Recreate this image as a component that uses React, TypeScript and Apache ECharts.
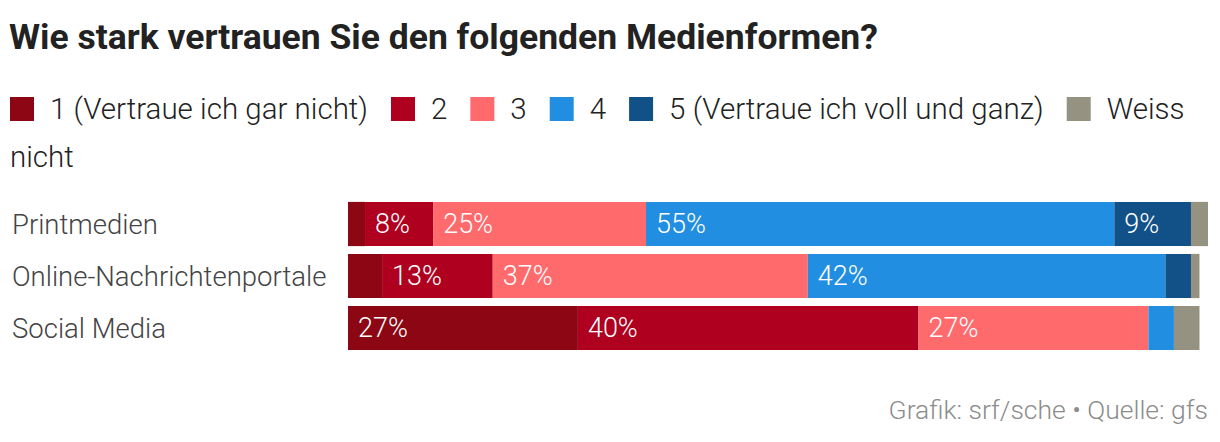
import React, { useEffect, useRef } from "react";
import * as echarts from "echarts";

const categories = ["Printmedien", "Online-Nachrichtenportale", "Social Media"];
const seriesNames = [
  "1 (Vertraue ich gar nicht)",
  "2",
  "3",
  "4",
  "5 (Vertraue ich voll und ganz)",
  "Weiss nicht",
];
const seriesColors = ["#8c0614", "#b0001f", "#ff6a6c", "#218ee2", "#125187", "#959282"];
const values1 = [2, 4, 27];
const values2 = [8, 13, 40];
const values3 = [25, 37, 27];
const values4 = [55, 42, 3];
const values5 = [9, 3, 0];
const valuesWeiss = [2, 1, 3];
const allValues = [values1, values2, values3, values4, values5, valuesWeiss];

const FONT = "Roboto";

export default function App() {
  const ref = useRef<HTMLDivElement>(null);
  useEffect(() => {
    document.body.style.margin = "0";
    const chart = echarts.init(ref.current!, null, { renderer: "svg" });
    const totals = categories.map((_, i) => allValues.reduce((s, a) => s + a[i], 0));
    const maxTotal = Math.max(...totals);
    chart.setOption({
      animation: false,
      textStyle: { fontFamily: FONT },
      title: [
        {
          text: "Wie stark vertrauen Sie den folgenden Medienformen?",
          left: 9,
          top: 19,
          padding: 0,
          textStyle: { fontFamily: FONT, fontSize: 35.5, fontWeight: "bold", color: "#222" },
        },
        {
          text: "Grafik: srf/sche • Quelle: gfs",
          right: 12,
          top: 396,
          padding: 0,
          textStyle: { fontFamily: FONT, fontSize: 26.5, fontWeight: 300, color: "#8c8c8c" },
        },
      ],
      legend: {
        left: 10,
        right: 8,
        top: 94,
        padding: 0,
        itemWidth: 24,
        itemHeight: 24,
        itemGap: 23,
        icon: "rect",
        data: seriesNames,
        formatter: (name: string) => (name === "Weiss nicht" ? "Weiss" : name),
        textStyle: { fontFamily: FONT, fontSize: 29.5, fontWeight: 300, color: "#222", padding: [0, 0, 0, 11] },
      },
      graphic: [
        {
          type: "text",
          left: 10,
          top: 142,
          style: { text: "nicht", fontFamily: FONT, fontSize: 29.5, fontWeight: 300, fill: "#222" },
        },
      ],
      grid: { left: 348, right: 12, top: 198, height: 156 },
      xAxis: { type: "value", min: 0, max: maxTotal, show: false },
      yAxis: {
        type: "category",
        data: categories,
        inverse: true,
        axisLine: { show: false },
        axisTick: { show: false },
        axisLabel: {
          align: "left",
          margin: 336,
          fontFamily: FONT,
          fontSize: 27.5,
          fontWeight: 300,
          color: "#444",
        },
      },
      series: seriesNames.map((name, si) => ({
        name,
        type: "bar",
        stack: "total",
        barCategoryGap: "15%",
        data: allValues[si],
        itemStyle: { color: seriesColors[si] },
        label: {
          show: true,
          position: "insideLeft",
          distance: 10,
          fontFamily: FONT,
          fontSize: 27,
          fontWeight: 300,
          color: "#fff",
          formatter: (p: any) => (p.value >= 5 ? p.value + "%" : ""),
        },
      })),
    });
    return () => chart.dispose();
  }, []);
  return <div ref={ref} style={{ width: 1220, height: 442 }} />;
}
